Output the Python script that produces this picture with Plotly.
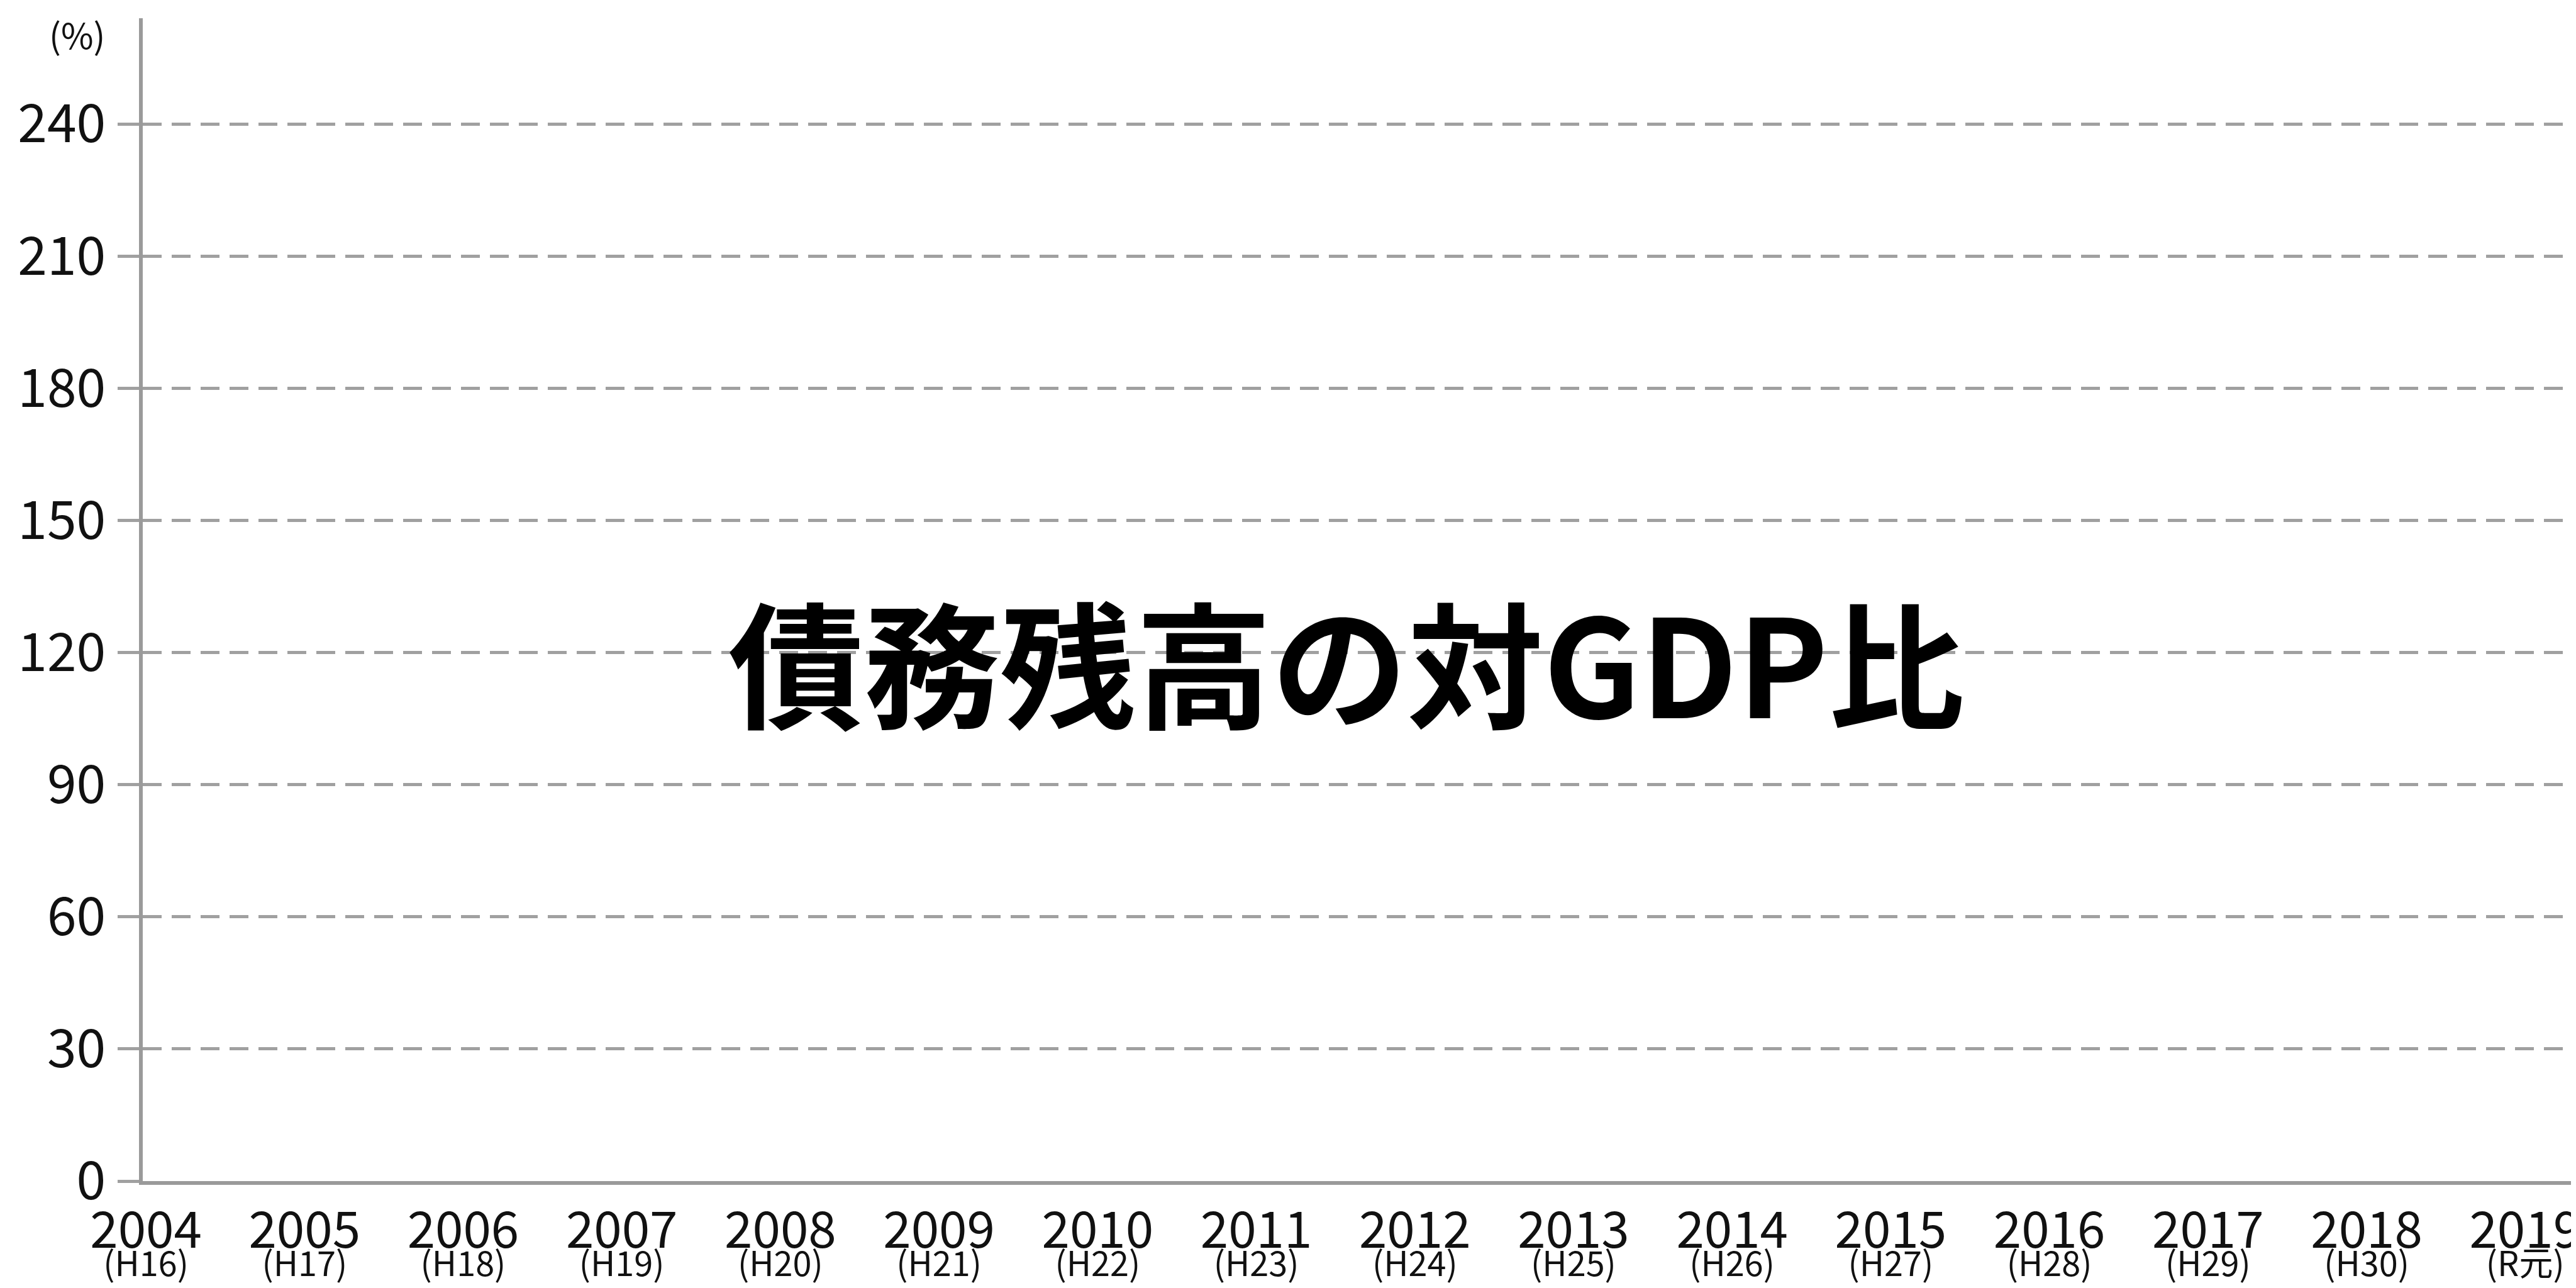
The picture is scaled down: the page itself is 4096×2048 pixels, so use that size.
import plotly.graph_objects as go

years = ["2004", "2005", "2006", "2007", "2008", "2009", "2010", "2011",
         "2012", "2013", "2014", "2015", "2016", "2017", "2018", "2019"]
eras = ["(H16)", "(H17)", "(H18)", "(H19)", "(H20)", "(H21)", "(H22)", "(H23)",
        "(H24)", "(H25)", "(H26)", "(H27)", "(H28)", "(H29)", "(H30)", "(R元)"]
ratio_values = [None] * len(years)  # chart is an empty template: no values plotted
y_ticks = [0, 30, 60, 90, 120, 150, 180, 210, 240]
y_unit = "(%)"
title_text = "債務残高の対GDP比"

FONT = "Noto Sans CJK JP, Liberation Sans, sans-serif"
GRID = "#a0a0a0"
AXIS = "#9a9a9a"

fig = go.Figure()
fig.add_trace(go.Scatter(x=years, y=ratio_values, mode="lines",
                         showlegend=False, hoverinfo="skip"))
fig.add_trace(go.Scatter(x=years, y=ratio_values, mode="lines", xaxis="x2",
                         showlegend=False, hoverinfo="skip"))

xrange = [-0.02, 15.34]
fig.update_layout(
    width=4096, height=2048,
    margin=dict(l=219, r=0, t=21, b=178),
    paper_bgcolor="white", plot_bgcolor="white",
    font=dict(family=FONT, color="#111111"),
    xaxis=dict(
        type="category", categoryorder="array", categoryarray=years,
        range=xrange, showgrid=False, zeroline=False,
        showline=True, linecolor=AXIS, linewidth=6,
        ticks="", tickvals=years, ticktext=years,
        tickfont=dict(size=80, family=FONT, color="#111111"),
        ticklabelstandoff=4,
    ),
    xaxis2=dict(
        type="category", categoryorder="array", categoryarray=years,
        range=xrange, overlaying="x", side="bottom", anchor="y",
        showgrid=False, zeroline=False, showline=False, ticks="",
        tickvals=years, ticktext=eras,
        tickfont=dict(size=54, family=FONT, color="#111111"),
        ticklabelstandoff=96,
    ),
    yaxis=dict(
        range=[0, 264], tickvals=y_ticks, ticktext=[str(v) for v in y_ticks],
        showgrid=True, gridcolor=GRID, gridwidth=5, griddash="30px,16px",
        zeroline=False, showline=True, linecolor=AXIS, linewidth=6,
        ticks="outside", ticklen=34, tickwidth=5, tickcolor=GRID,
        tickfont=dict(size=84, family=FONT, color="#111111"),
        ticklabelstandoff=2,
    ),
    annotations=[
        dict(text=y_unit, xref="paper", yref="paper", x=-0.015, y=1.0,
             xanchor="right", yanchor="top", yshift=18, showarrow=False,
             font=dict(size=56, family=FONT, color="#111111")),
        dict(text=title_text, xref="paper", yref="paper", x=0.494, y=0.449,
             xanchor="center", yanchor="middle", showarrow=False,
             font=dict(size=216, family=FONT, color="#000000", weight="bold")),
    ],
)

fig.write_html("out.html")
